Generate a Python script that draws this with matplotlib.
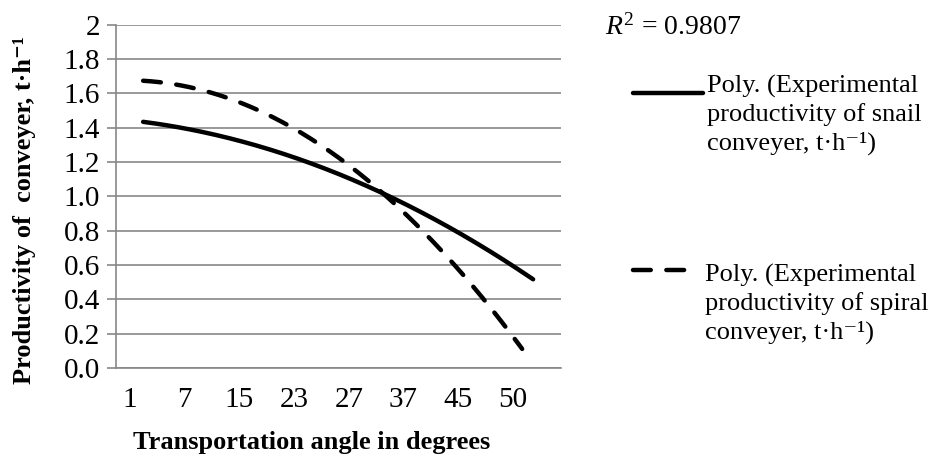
import numpy as np
import matplotlib
matplotlib.use("Agg")
import matplotlib.pyplot as plt
from matplotlib.lines import Line2D

plt.rcParams['font.family'] = ['Liberation Serif', 'DejaVu Serif']
plt.rcParams['mathtext.fontset'] = 'custom'
plt.rcParams['mathtext.rm'] = 'Liberation Serif'
plt.rcParams['mathtext.it'] = 'Liberation Serif:italic'
plt.rcParams['mathtext.bf'] = 'Liberation Serif:bold'

# data at each category
angles = ['1', '7', '15', '23', '27', '37', '45', '50']
snail = [1.44, 1.40, 1.33, 1.22, 1.10, 0.96, 0.80, 0.59]
spiral = [1.68, 1.64, 1.54, 1.40, 1.18, 0.91, 0.58, 0.18]
yticks = [0.0, 0.2, 0.4, 0.6, 0.8, 1.0, 1.2, 1.4, 1.6, 1.8, 2.0]
ytick_labels = ['0.0', '0.2', '0.4', '0.6', '0.8', '1.0', '1.2', '1.4', '1.6', '1.8', '2']

grid_col = '#878787'

fig = plt.figure(figsize=(9.29, 4.57), dpi=100)
ax = fig.add_axes([116 / 929, 1 - 368 / 457, 445 / 929, (368 - 24.7) / 457])

pos = np.arange(len(angles))

# polynomial trend lines (2nd order) like the spreadsheet ones
c1 = np.polyfit(pos, snail, 2)
c2 = np.polyfit(pos, spiral, 2)
u1 = np.linspace(0.24, 7.37, 200)
u2 = np.linspace(0.24, 7.17, 200)
ax.plot(u1, np.polyval(c1, u1), color='black', lw=3.2, solid_capstyle='round', zorder=3)
ax.plot(u2, np.polyval(c2, u2), color='black', lw=3.2, dashes=(4, 3.5),
        dash_capstyle='round', zorder=3)

ax.set_xlim(-0.256, 7.88)
ax.set_ylim(0, 2)
ax.set_yticks(yticks)
ax.set_yticklabels(ytick_labels)
ax.set_xticks(pos)
ax.set_xticklabels(angles)
ax.grid(axis='y', color=grid_col, lw=1.2)
ax.set_axisbelow(True)
for s in ['top', 'right']:
    ax.spines[s].set_visible(False)
ax.spines['left'].set_color(grid_col)
ax.spines['bottom'].set_color(grid_col)
ax.spines['left'].set_linewidth(1.2)
ax.spines['bottom'].set_linewidth(1.2)
ax.tick_params(axis='y', length=6.5, width=1.2, color=grid_col, labelsize=21, pad=5)
ax.tick_params(axis='x', length=0, labelsize=21, pad=14)

fig.text(25 / 929, 1 - 210 / 457, 'Productivity of  conveyer, t·h⁻¹',
         rotation=90, ha='center', va='center', fontsize=19, fontweight='bold')
fig.text(312 / 929, 1 - 443 / 457, 'Transportation angle in degrees',
         ha='center', va='center', fontsize=19, fontweight='bold')

fig.text(605 / 929, 1 - 35 / 457, r'$R^2$ = 0.9807', ha='left', va='baseline', fontsize=20)

# legend drawn by hand
fig.add_artist(Line2D([633 / 929, 703 / 929], [1 - 93 / 457, 1 - 93 / 457],
                      color='black', lw=3.2, solid_capstyle='round'))
fig.add_artist(Line2D([633 / 929, 688 / 929], [1 - 270 / 457, 1 - 270 / 457],
                      color='black', lw=3.2, dashes=(4, 3.5), dash_capstyle='round'))
fig.text(707 / 929, 1 - 75 / 457,
         'Poly. (Experimental\nproductivity of snail\nconveyer, t·h⁻¹)',
         ha='left', va='top', fontsize=19, linespacing=1.3)
fig.text(705 / 929, 1 - 264 / 457,
         'Poly. (Experimental\nproductivity of spiral\nconveyer, t·h⁻¹)',
         ha='left', va='top', fontsize=19, linespacing=1.3)

fig.savefig('out.png', dpi=100)
